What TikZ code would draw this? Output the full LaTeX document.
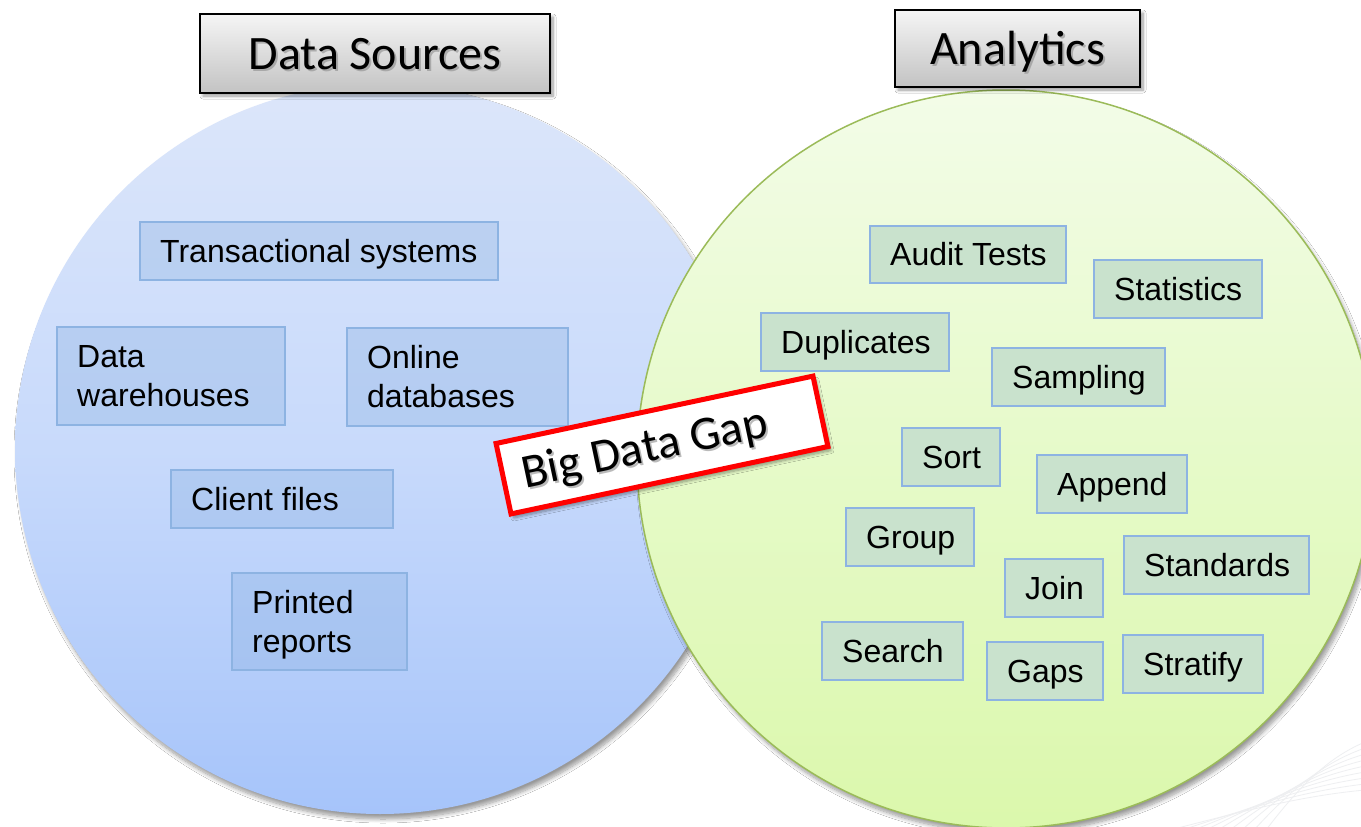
\documentclass[tikz,border=0pt]{standalone}
\usepackage{fontspec}
\setmainfont{Liberation Sans}
\newfontfamily\calib{Carlito}
\usetikzlibrary{fit,shadows,shadows.blur,calc}
\definecolor{bluetop}{HTML}{DCE6FA}
\definecolor{bluemid}{HTML}{C8DAFB}
\definecolor{bluebot}{HTML}{A6C4FA}
\definecolor{greentop}{HTML}{F3FCE8}
\definecolor{greenmid}{HTML}{E6FAC9}
\definecolor{greenbot}{HTML}{DBF8AC}
\definecolor{greenedge}{HTML}{9BBB59}
\definecolor{boxedge}{HTML}{8DB3E2}
\definecolor{anafill}{HTML}{C9E2CD}
\definecolor{titletop}{HTML}{F5F5F5}
\definecolor{titlebot}{HTML}{C3C3C3}
\definecolor{swirl}{HTML}{EEEFF1}
\newcommand\onebox[7]{%
  \node[#1, fit={(#3,#4)(#5,#6)}] (#2) {};
  \node[boxtext] (#2t) at ({#3+20},{(#4+#6)/2}) {#7};}
\newcommand\twobox[8]{%
  \node[#1, fit={(#3,#4)(#5,#6)}] (#2) {};
  \node[boxtext] (#2a) at ({#3+20},{(#4+#6)/2-19.5}) {#7};
  \node[boxtext] (#2b) at ({#3+20},{(#4+#6)/2+19.5}) {#8};}
\tikzset{
  srcbox/.style={draw=boxedge, line width=1.5pt, fill=boxedge, fill opacity=0.35, draw opacity=1, inner sep=0pt},
  anabox/.style={draw=boxedge, line width=1.5pt, fill=anafill, inner sep=0pt},
  boxtext/.style={inner sep=0pt, anchor=west, text height=22.9pt, text depth=0pt, font=\fontsize{32}{38}\selectfont},
  titlebox/.style={draw=black, line width=1.5pt, top color=titletop, bottom color=titlebot, inner sep=0pt,
     blur shadow={shadow xshift=3pt, shadow yshift=-3pt, shadow blur steps=8, shadow blur radius=3pt}},
  titletext/.style={inner sep=0pt, text height=31pt, text depth=0pt, font=\calib\fontsize{48}{56}\selectfont},
  tshadow/.style={text=black!45, opacity=0.6},
  gapbox/.style={draw=red, line width=5pt, fill=white, inner sep=0pt, minimum width=324pt, minimum height=72pt,
     blur shadow={shadow xshift=3pt, shadow yshift=-4pt, shadow blur steps=8, shadow blur radius=3pt}},
  gaptext/.style={inner sep=0pt, font=\calib\fontsize{48}{56}\selectfont},
  circ/.style={circle, inner sep=0pt,
     blur shadow={shadow xshift=3pt, shadow yshift=-5pt, shadow blur steps=10, shadow blur radius=4pt}},
  swirlline/.style={draw=swirl, line width=0.8pt}
}
\begin{document}
\begin{tikzpicture}[x=1pt,y=-1pt]
\useasboundingbox (0,0) rectangle (1361,827);
\clip (0,0) rectangle (1361,827);
\fill[white] (0,0) rectangle (1361,827);
% background swirl lines
\foreach \i in {0,...,8}{
  \draw[swirlline] ({1170+\i*12},830) .. controls ({1240+\i*8},{812-\i*4}) and ({1300+\i*4},{796-\i*5}) .. (1365,{790-\i*6});
}
% circles
\node[circ, minimum size=730pt, top color=bluetop, bottom color=bluebot, middle color=bluemid] (src) at (380,449) {};
\node[circ, minimum size=738pt, draw=greenedge, line width=1.5pt, top color=greentop, bottom color=greenbot, middle color=greenmid] (ana) at (1006,459) {};
% titles
\node[titlebox, fit={(200,14)(550,93)}] (dst) {};
\node[titletext, tshadow] (dsts) at ($(dst.center)+(2,2)$) {Data Sources};
\node[titletext] (dstt) at (dst.center) {Data Sources};
\node[titlebox, fit={(895,10)(1140,87)}] (ant) {};
\node[titletext, tshadow] (ants) at ($(ant.center)+(2,2)$) {Analytics};
\node[titletext] (antt) at (ant.center) {Analytics};
% data source boxes
\onebox{srcbox}{trans}{140}{222}{498}{280}{Transactional systems}
\twobox{srcbox}{dw}{57}{327}{285}{425}{Data}{warehouses}
\twobox{srcbox}{odb}{347}{328}{568}{426}{Online}{databases}
\onebox{srcbox}{cf}{171}{470}{393}{528}{Client files}
\twobox{srcbox}{pr}{232}{573}{407}{670}{Printed}{reports}
% analytics boxes
\onebox{anabox}{audit}{870}{226}{1066}{283}{Audit Tests}
\onebox{anabox}{stat}{1094}{260}{1262}{318}{Statistics}
\onebox{anabox}{dup}{761}{313}{949}{371}{Duplicates}
\onebox{anabox}{samp}{992}{348}{1165}{406}{Sampling}
\onebox{anabox}{sort}{902}{428}{1000}{486}{Sort}
\onebox{anabox}{app}{1037}{455}{1187}{513}{Append}
\onebox{anabox}{grp}{846}{508}{974}{566}{Group}
\onebox{anabox}{std}{1124}{536}{1309}{594}{Standards}
\onebox{anabox}{join}{1005}{559}{1103}{617}{Join}
\onebox{anabox}{srch}{822}{622}{963}{680}{Search}
\onebox{anabox}{gaps}{987}{642}{1103}{700}{Gaps}
\onebox{anabox}{strat}{1123}{635}{1263}{693}{Stratify}
% big data gap
\node[gapbox, rotate=12] (gap) at (662,445) {};
\node[gaptext, tshadow, rotate=12] (gapts) at (647,452) {Big Data Gap};
\node[gaptext, rotate=12] (gapt) at (645,450) {Big Data Gap};
\end{tikzpicture}
\end{document}
